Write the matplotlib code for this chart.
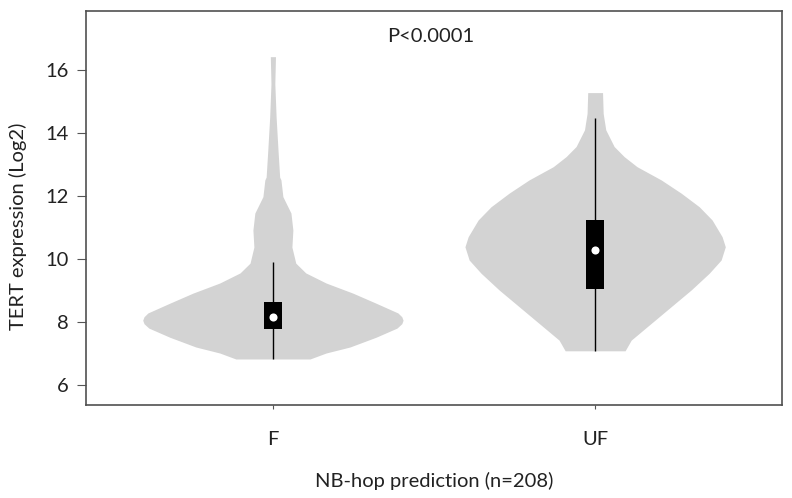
import matplotlib
matplotlib.use("Agg")
import matplotlib.pyplot as plt

# groups and positions
groups = ["F", "UF"]
positions = [1, 2]

# violin outlines: y values and half widths
f_y = [6.83, 7.02, 7.21, 7.52, 7.81, 7.95, 8.06, 8.17, 8.29, 8.60, 8.92, 9.24, 9.56, 9.87,
       10.38, 10.92, 11.46, 11.98, 12.51, 12.6, 13.43, 14.5, 15.56, 16.42]
f_hw = [0.115, 0.165, 0.239, 0.32, 0.385, 0.400, 0.404, 0.400, 0.388, 0.32, 0.248, 0.165,
        0.102, 0.071, 0.059, 0.062, 0.056, 0.031, 0.025, 0.021, 0.016, 0.010, 0.006, 0.008]

uf_y = [7.09, 7.43, 7.96, 8.49, 9.02, 9.55, 9.97, 10.39, 10.71, 11.24, 11.66,
        12.09, 12.51, 12.93, 13.25, 13.57, 14.1, 14.62, 15.28]
uf_hw = [0.093, 0.112, 0.174, 0.236, 0.298, 0.354, 0.391, 0.404, 0.394, 0.363, 0.323,
         0.267, 0.205, 0.130, 0.090, 0.059, 0.033, 0.025, 0.023]

# box plot stats
q1 = [7.77, 9.05]
medians = [8.16, 10.28]
q3 = [8.63, 11.24]
whisk_lo = [6.83, 7.09]
whisk_hi = [9.9, 14.47]

plt.rcParams['font.family'] = ['Lato', 'DejaVu Sans']

fig = plt.figure(figsize=(7.92, 4.98), dpi=100)
ax = fig.add_axes([0.1086, 0.1867, 0.8788, 0.7913])

outlines = [(f_y, f_hw), (uf_y, uf_hw)]
for pos, (ys, hws) in zip(positions, outlines):
    left = [pos - h for h in hws]
    right = [pos + h for h in hws]
    ax.fill_betweenx(ys, left, right, color='#d3d3d3', lw=0)

ax.vlines(positions, whisk_lo, whisk_hi, color='black', lw=1)
heights = [b - a for a, b in zip(q1, q3)]
ax.bar(positions, heights, bottom=q1, width=0.055, color='black')
ax.scatter(positions, medians, s=34, color='white', zorder=5, lw=0)

ax.set_xlim(0.42, 2.58)
ax.set_ylim(5.37, 17.87)
ax.set_xticks(positions)
ax.set_xticklabels(groups)
ax.set_yticks([6, 8, 10, 12, 14, 16])

ax.tick_params(axis='x', length=3, pad=16, labelsize=14.5, color='#555555', labelcolor='#222222')
ax.tick_params(axis='y', length=6.5, pad=6, labelsize=14.5, color='#555555', labelcolor='#222222')
for s in ax.spines.values():
    s.set_color('#505050')
    s.set_linewidth(1.2)

fig.text(434 / 792, 1 - 481 / 498, "NB-hop prediction (n=208)", fontsize=14.5,
         ha='center', va='center', color='#222222')
fig.text(18 / 792, 1 - 226 / 498, "TERT expression (Log2)", fontsize=14.5,
         ha='center', va='center', rotation=90, color='#222222')
ax.text(1.49, 17.06, "P<0.0001", ha='center', va='center', fontsize=14.5, color='#222222')

fig.savefig("out.png", dpi=100)
